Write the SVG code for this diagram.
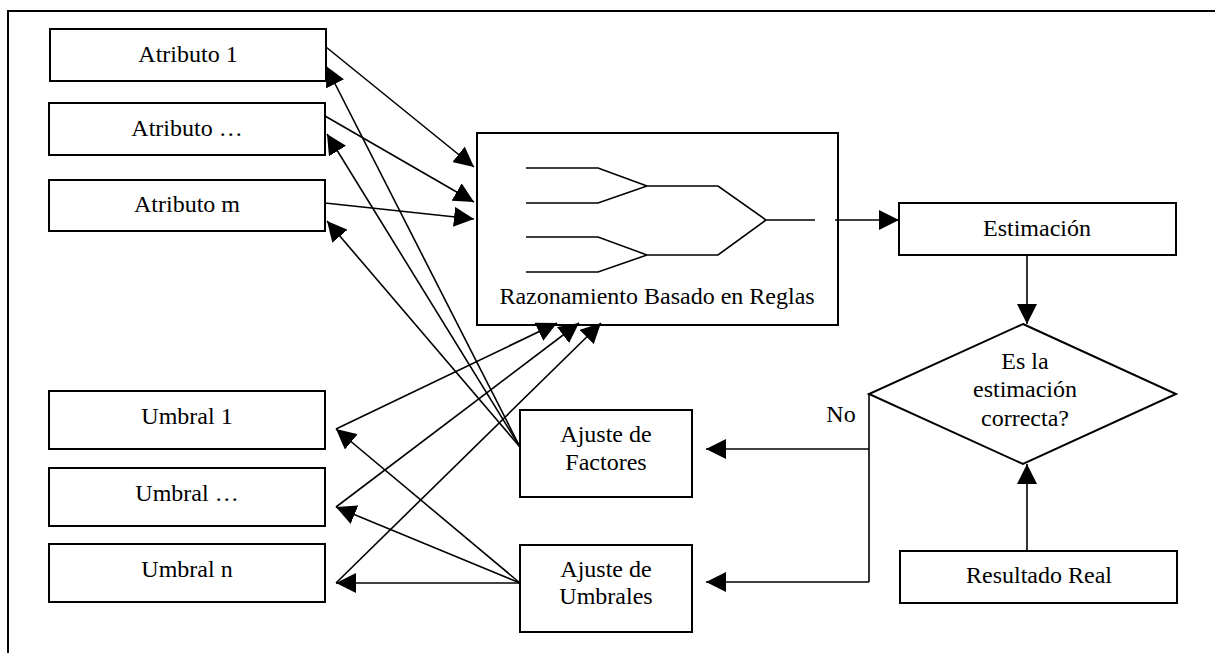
<svg xmlns="http://www.w3.org/2000/svg" width="1215" height="653" viewBox="0 0 1215 653">
<style>
.box{fill:#fff;stroke:#000;stroke-width:2}
.t{font-family:'Liberation Serif','Times New Roman',Times,serif;font-size:24px;fill:#000;text-anchor:middle}
.c{fill:none;stroke:#000;stroke-width:1.6}
.a{marker-end:url(#ah)}
</style>
<defs>
<marker id="ah" markerUnits="userSpaceOnUse" markerWidth="20" markerHeight="20" refX="20" refY="10" orient="auto" viewBox="0 0 20 20">
<path d="M0,0 L20,10 L0,20 z" fill="#000"/>
</marker>
</defs>
<rect x="0" y="0" width="1215" height="653" fill="#fff"/>
<path d="M8,653 L8,11 L1215,11" fill="none" stroke="#000" stroke-width="2"/>

<g id="atributo1"><rect class="box" x="50" y="29" width="276" height="52"/><text class="t" font-family="Liberation Serif, serif" x="188" y="62">Atributo 1</text></g>
<g id="atributo-dots"><rect class="box" x="49" y="103" width="276" height="52"/><text class="t" font-family="Liberation Serif, serif" x="187" y="136">Atributo …</text></g>
<g id="atributo-m"><rect class="box" x="49" y="180" width="276" height="51"/><text class="t" font-family="Liberation Serif, serif" x="187" y="212">Atributo m</text></g>

<g id="reglas">
<rect class="box" x="477" y="133" width="361" height="192"/>
<path class="c" d="M526,168 L598,168 L647,186 L598,203 L526,203 M647,186 L718,186 L766,220 L718,255 L647,255 L598,237 L526,237 M647,255 L598,272 L526,272 M766,220 L815,220" stroke-width="2"/>
<text class="t" font-family="Liberation Serif, serif" x="657" y="304">Razonamiento Basado en Reglas</text>
</g>

<g id="estimacion"><rect class="box" x="899" y="203" width="277" height="52"/><text class="t" font-family="Liberation Serif, serif" x="1037" y="236">Estimación</text></g>

<g id="decision">
<polygon class="box" points="1023,324 1176,394 1023,464 869,394"/>
<text class="t" font-family="Liberation Serif, serif" x="1025" y="369">Es la</text>
<text class="t" font-family="Liberation Serif, serif" x="1025" y="397">estimación</text>
<text class="t" font-family="Liberation Serif, serif" x="1025" y="426">correcta?</text>
</g>

<g id="umbral1"><rect class="box" x="49" y="391" width="276" height="58"/><text class="t" font-family="Liberation Serif, serif" x="187" y="424">Umbral 1</text></g>
<g id="umbral-dots"><rect class="box" x="49" y="468" width="276" height="58"/><text class="t" font-family="Liberation Serif, serif" x="187" y="501">Umbral …</text></g>
<g id="umbral-n"><rect class="box" x="49" y="544" width="276" height="58"/><text class="t" font-family="Liberation Serif, serif" x="187" y="577">Umbral n</text></g>

<g id="ajuste-factores"><rect class="box" x="520" y="410" width="172" height="87"/><text class="t" font-family="Liberation Serif, serif" x="606" y="442">Ajuste de</text><text class="t" font-family="Liberation Serif, serif" x="606" y="470">Factores</text></g>
<g id="ajuste-umbrales"><rect class="box" x="520" y="545" width="172" height="87"/><text class="t" font-family="Liberation Serif, serif" x="606" y="577">Ajuste de</text><text class="t" font-family="Liberation Serif, serif" x="606" y="604">Umbrales</text></g>

<g id="resultado-real"><rect class="box" x="900" y="551" width="277" height="52"/><text class="t" font-family="Liberation Serif, serif" x="1039" y="583">Resultado Real</text></g>

<g id="connectors">
<line class="c a" x1="326" y1="47" x2="474" y2="167"/>
<line class="c a" x1="325" y1="116" x2="474" y2="202"/>
<line class="c a" x1="325" y1="203" x2="474" y2="219"/>
<line class="c a" x1="520" y1="447" x2="326" y2="66"/>
<line class="c a" x1="520" y1="447" x2="327" y2="134"/>
<line class="c a" x1="520" y1="447" x2="327" y2="221"/>
<line class="c a" x1="520" y1="583" x2="336" y2="429"/>
<line class="c a" x1="520" y1="583" x2="336" y2="507"/>
<line class="c a" x1="520" y1="583" x2="336" y2="583"/>
<line class="c a" x1="336" y1="429" x2="557" y2="323"/>
<line class="c a" x1="336" y1="507" x2="579" y2="323"/>
<line class="c a" x1="336" y1="583" x2="601" y2="323"/>
<line class="c a" x1="835" y1="220" x2="899" y2="220"/>
<line class="c a" x1="1027" y1="255" x2="1027" y2="324"/>
<line class="c a" x1="1027" y1="551" x2="1027" y2="464"/>
<line class="c" x1="869" y1="394" x2="869" y2="582"/>
<line class="c a" x1="869" y1="449" x2="706" y2="449"/>
<line class="c a" x1="869" y1="582" x2="706" y2="582"/>
<text class="t" font-family="Liberation Serif, serif" x="841" y="422">No</text>
</g>
</svg>
